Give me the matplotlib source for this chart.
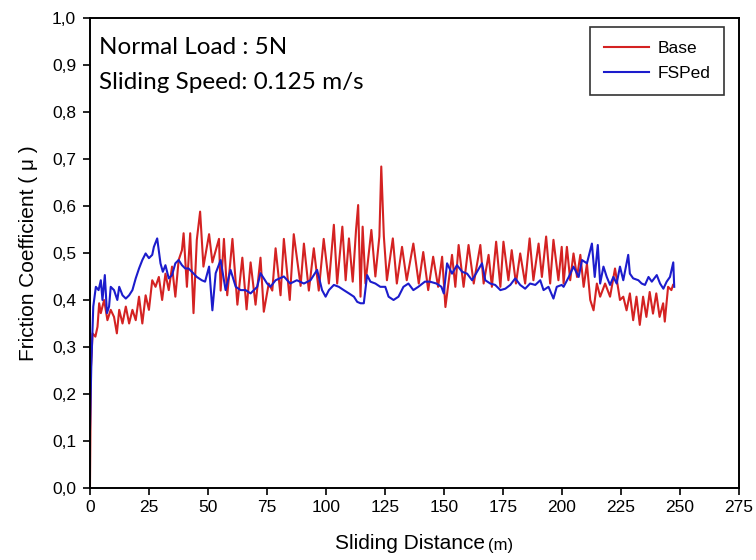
import matplotlib
matplotlib.use("Agg")
import matplotlib.pyplot as plt
from matplotlib.ticker import FuncFormatter

# friction coefficient vs sliding distance
base_x = [0.0, 0.42, 1.1, 2.3, 3.2, 3.9, 4.6, 6.0, 7.4, 8.8, 10.2, 11.4, 12.4, 13.8, 15.2,
          16.6, 18.0, 19.4, 20.8, 22.2, 23.6, 25.0, 26.4, 27.8, 29.2, 30.6, 32.0, 33.4, 34.8,
          36.2, 37.6, 39.0, 39.7, 41.1, 42.5, 43.9, 45.3, 46.7, 48.1,
          50.5, 51.9, 54.7, 55.4, 56.8, 58.2, 60.4, 62.5, 64.6, 66.4, 68.1, 70.2, 72.3, 73.7,
          75.8, 77.3, 78.7, 80.8, 82.2, 84.7, 86.4, 89.3, 90.7, 92.8, 94.9, 97.0, 99.1,
          101.3, 103.4, 104.8, 107.0, 108.4, 109.8, 111.4, 112.8, 113.7, 114.7, 115.6, 116.8,
          119.3, 121.0, 122.7, 123.5, 124.6, 125.9, 128.4, 130.1, 132.3, 134.3, 137.1, 139.4,
          141.3, 143.4, 145.5, 147.6, 149.3,
          150.7, 153.5, 154.9, 156.3, 158.4, 160.5, 162.7, 165.5, 166.9, 169.0, 170.4, 172.2,
          174.0, 175.3, 177.4, 178.8, 180.6, 182.4, 184.5, 186.4, 188.0, 190.2, 191.6, 193.4,
          195.1, 196.5, 198.6, 200.0,
          200.8, 202.2, 203.6, 205.0, 206.5, 207.9, 209.3, 210.7, 212.1, 213.5, 214.9, 216.3,
          218.4, 220.5, 222.6, 224.7, 226.1, 227.5, 228.9, 230.3, 231.7, 233.1, 234.5, 235.9,
          237.3, 238.7, 240.1, 241.5, 243.0, 243.7, 245.1, 246.5, 247.2]
base_y = [0.0, 0.258, 0.329, 0.322, 0.343, 0.393, 0.372, 0.40, 0.357, 0.379, 0.364, 0.329, 0.379, 0.35, 0.386,
          0.35, 0.379, 0.357, 0.407, 0.35, 0.41, 0.379, 0.442, 0.428, 0.449, 0.40, 0.456, 0.421, 0.471,
          0.407, 0.485, 0.506, 0.542, 0.428, 0.542, 0.372, 0.528, 0.588, 0.471,
          0.54, 0.48, 0.53, 0.42, 0.53, 0.41, 0.53, 0.39, 0.49, 0.38, 0.48, 0.39, 0.49, 0.375,
          0.435, 0.42, 0.51, 0.41, 0.53, 0.40, 0.54, 0.43, 0.52, 0.42, 0.51, 0.42, 0.53,
          0.435, 0.560, 0.435, 0.556, 0.442, 0.531, 0.439, 0.549, 0.602, 0.407, 0.556, 0.435,
          0.549, 0.45, 0.535, 0.684, 0.535, 0.442, 0.531, 0.435, 0.513, 0.442, 0.52, 0.435,
          0.502, 0.421, 0.492, 0.428, 0.492,
          0.385, 0.496, 0.428, 0.517, 0.428, 0.517, 0.435, 0.517, 0.435, 0.496, 0.428, 0.524,
          0.428, 0.524, 0.442, 0.506, 0.435, 0.499, 0.435, 0.531, 0.442, 0.520, 0.449, 0.535,
          0.435, 0.528, 0.442, 0.513,
          0.435, 0.513, 0.442, 0.499, 0.449, 0.496, 0.428, 0.477, 0.400, 0.378, 0.435, 0.407,
          0.435, 0.407, 0.467, 0.40, 0.407, 0.378, 0.414, 0.357, 0.407, 0.347, 0.407, 0.364,
          0.417, 0.371, 0.414, 0.364, 0.393, 0.354, 0.428, 0.421, 0.432]

fsp_x = [0.0, 0.56, 1.4, 2.5, 3.65, 4.6, 5.3, 6.3, 7.2, 8.1, 8.8, 10.2, 11.6, 12.4, 13.8, 15.2,
         16.6, 18.0, 19.4, 20.8, 22.2, 23.6, 25.0, 26.4, 27.1, 28.5, 29.9, 30.9, 32.0, 33.4,
         34.8, 36.2, 37.6, 39.0, 40.4, 41.8, 43.2, 45.3, 47.4, 48.8,
         50.5, 51.9, 53.3, 55.4, 57.5, 59.6, 61.8, 63.9, 66.0, 68.1, 70.9, 72.3, 75.1, 76.5,
         78.7, 82.2, 84.9, 87.7, 90.7, 93.5, 96.3, 98.4,
         99.9, 101.3, 103.4, 105.5, 107.6, 109.8, 111.9, 113.3, 114.7, 116.1, 117.5, 118.9,
         121.0, 123.1, 125.2, 126.6, 128.7, 130.8, 132.9, 135.0, 137.1, 139.2, 142.0, 144.1,
         146.9, 149.0,
         150.0, 151.4, 153.5, 155.6, 157.8, 159.9, 162.0, 164.1, 166.2, 167.6, 169.7, 171.8,
         174.0, 176.1, 178.2, 180.3, 182.4, 184.5, 186.6, 188.8, 190.9, 192.3, 194.4, 196.5,
         197.9, 200.0,
         200.8, 203.0, 205.0, 207.2, 208.6, 210.7, 212.8, 214.0, 215.3, 216.3, 217.7, 219.1,
         220.5, 221.9, 223.3, 224.7, 226.1, 228.2, 228.9, 230.3, 232.5, 233.9, 235.3, 236.8,
         238.2, 240.3, 241.7, 243.1, 244.5, 245.9, 247.3, 247.7]
fsp_y = [0.123, 0.258, 0.386, 0.428, 0.421, 0.442, 0.40, 0.453, 0.372, 0.386, 0.428, 0.421, 0.40, 0.428, 0.41, 0.403,
         0.41, 0.421, 0.446, 0.467, 0.485, 0.499, 0.489, 0.496, 0.513, 0.531, 0.478, 0.46, 0.474, 0.446,
         0.453, 0.478, 0.485, 0.474, 0.467, 0.467, 0.46, 0.449, 0.442, 0.439,
         0.471, 0.378, 0.457, 0.485, 0.421, 0.464, 0.428, 0.421, 0.421, 0.414, 0.428, 0.457, 0.435, 0.428,
         0.442, 0.45, 0.435, 0.442, 0.435, 0.442, 0.464, 0.421,
         0.407, 0.421, 0.432, 0.428, 0.421, 0.414, 0.407, 0.396, 0.393, 0.393, 0.453, 0.439,
         0.435, 0.428, 0.428, 0.407, 0.40, 0.407, 0.428, 0.435, 0.421, 0.428, 0.439, 0.439,
         0.435, 0.428,
         0.414, 0.478, 0.456, 0.474, 0.46, 0.456, 0.442, 0.46, 0.478, 0.442, 0.435, 0.432,
         0.421, 0.424, 0.432, 0.446, 0.432, 0.424, 0.435, 0.432, 0.442, 0.421, 0.428, 0.403,
         0.428, 0.432,
         0.428, 0.449, 0.471, 0.449, 0.485, 0.478, 0.52, 0.449, 0.517, 0.435, 0.471, 0.449,
         0.432, 0.449, 0.435, 0.471, 0.442, 0.496, 0.456, 0.446, 0.442, 0.435, 0.432, 0.449,
         0.439, 0.453, 0.435, 0.424, 0.439, 0.449, 0.48, 0.428]

x_ticks = [0, 25, 50, 75, 100, 125, 150, 175, 200, 225, 250, 275]
y_ticks = [0.0, 0.1, 0.2, 0.3, 0.4, 0.5, 0.6, 0.7, 0.8, 0.9, 1.0]

plt.rcParams['font.family'] = ['Liberation Sans', 'DejaVu Sans']

fig = plt.figure(figsize=(7.56, 5.6), dpi=100)
ax = fig.add_axes([0.119, 0.1286, 0.858, 0.8393])

ax.plot(base_x, base_y, color='#d42222', lw=1.5, label='Base')
ax.plot(fsp_x, fsp_y, color='#1c1ccc', lw=1.5, label='FSPed')

ax.set_xlim(0, 275)
ax.set_ylim(0, 1.0)
ax.set_xticks(x_ticks)
ax.set_yticks(y_ticks)
ax.yaxis.set_major_formatter(FuncFormatter(lambda v, p: f"{v:.1f}".replace('.', ',')))
ax.tick_params(direction='out', length=5, width=1.2, labelsize=12.5, pad=5)
ax.tick_params(axis='x', pad=4)
for s in ax.spines.values():
    s.set_linewidth(1.4)

ax.text(0.014, 0.96, "Normal Load : 5N", transform=ax.transAxes, fontsize=17.5,
        family=['Lato', 'DejaVu Sans'], va='top', ha='left')
ax.text(0.014, 0.885, "Sliding Speed: 0.125 m/s", transform=ax.transAxes, fontsize=17.5,
        family=['Lato', 'DejaVu Sans'], va='top', ha='left')

leg = ax.legend(loc='upper right', bbox_to_anchor=(0.978, 0.98), fontsize=12.5,
                frameon=True, fancybox=False, handlelength=2.6, borderpad=0.8,
                labelspacing=0.55, handletextpad=0.5, borderaxespad=0)
leg.get_frame().set_edgecolor('black')
leg.get_frame().set_linewidth(1.2)

ax.set_ylabel("Friction Coefficient ( μ )", fontsize=15, labelpad=10)
fig.text(0.642, 0.012, "Sliding Distance", fontsize=15, ha='right', va='bottom')
fig.text(0.646, 0.012, "(m)", fontsize=12, ha='left', va='bottom')

plt.savefig("out.png", dpi=100)
